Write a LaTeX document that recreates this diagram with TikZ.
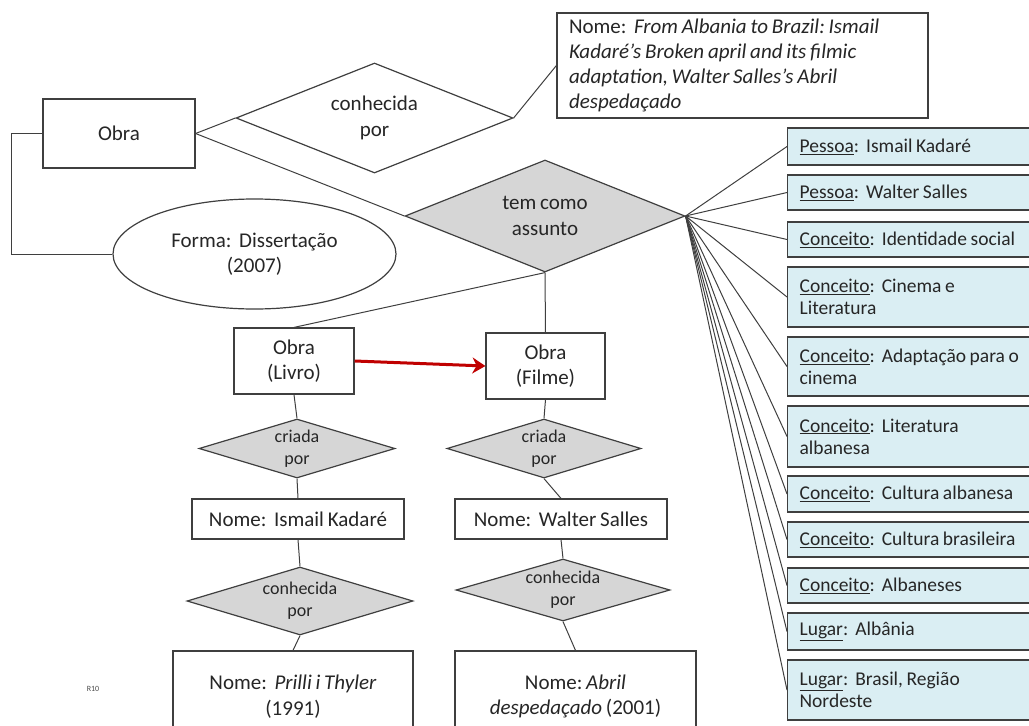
\documentclass[tikz,border=0pt]{standalone}
\usepackage{fontspec}
\setmainfont{Carlito}[WordSpace=0.8]
\frenchspacing
\usetikzlibrary{shapes.geometric,arrows.meta}
\definecolor{linegray}{HTML}{3F3F3F}
\definecolor{relfill}{HTML}{D6D6D6}
\definecolor{topicfill}{HTML}{DAEEF3}
\definecolor{arrowred}{HTML}{C00000}
\tikzset{
    every node/.style={font=\fontsize{21}{25.5}\selectfont, text=black!85},
    entbox/.style={rectangle, draw=linegray, line width=1.2pt, fill=white, inner sep=0pt, align=center},
    relwhite/.style={diamond, draw=linegray, line width=1.2pt, fill=white, aspect=2.5, inner sep=0pt, align=center},
    relgray/.style={relwhite, fill=relfill},
    relsmall/.style={relgray, aspect=3.5, font=\fontsize{18}{22}\selectfont},
    topicbox/.style={rectangle, draw=linegray, line width=1.2pt, fill=topicfill, anchor=west,
                     inner xsep=12pt, inner ysep=0pt, text width=244pt, minimum width=268pt,
                     align=flush left, font=\fontsize{19.5}{22}\selectfont},
    link/.style={draw=linegray, line width=1pt}
}

\begin{document}
\begin{tikzpicture}[x=1pt,y=-1pt]
                    \useasboundingbox (0,0) rectangle (1029,726);
                    \clip (0,0) rectangle (1029,726);

                    \node[entbox, minimum width=152pt, minimum height=69pt] (obra) at (119,133.5) {Obra};
                    \node[relwhite, minimum width=277pt, minimum height=110pt] (conhecida) at (374.5,118) {conhecida\\por};
                    \node[entbox, minimum width=371pt, minimum height=105pt, inner xsep=12pt, text width=347pt, align=flush left,
                          font=\fontsize{21}{25}\selectfont] (titulo) at (742.5,65.5)
                          {Nome:~ \textit{From Albania to Brazil: Ismail}\\
                           \textit{Kadaré's Broken april and its filmic}\\
                           \textit{adaptation, Walter Salles's Abril}\\
                           \textit{despedaçado}};
                    \node[ellipse, draw=linegray, line width=1.2pt, minimum width=283pt, minimum height=110pt,
                          inner sep=0pt, align=center] (forma) at (254.5,254) {Forma:~ Dissertação\\(2007)};
                    \node[relgray, minimum width=280pt, minimum height=112pt] (tema) at (545,216) {tem como\\assunto};

                    \node[entbox, minimum width=120pt, minimum height=66pt] (livro) at (294,361) {Obra\\(Livro)};
                    \node[entbox, minimum width=119pt, minimum height=66pt] (filme) at (545.5,366) {Obra\\(Filme)};
                    \node[relsmall, minimum width=196pt, minimum height=59pt] (criadaL) at (297,448.5) {criada\\por};
                    \node[relsmall, minimum width=194pt, minimum height=59pt] (criadaF) at (544,448.5) {criada\\por};
                    \node[entbox, minimum width=212pt, minimum height=40pt] (kadare) at (298,519) {Nome:~ Ismail Kadaré};
                    \node[entbox, minimum width=212pt, minimum height=40pt] (salles) at (561,519) {Nome:~ Walter Salles};
                    \node[relsmall, minimum width=226pt, minimum height=68pt] (conhecL) at (300,601) {conhecida\\por};
                    \node[relsmall, minimum width=214pt, minimum height=62pt] (conhecF) at (563,590) {conhecida\\por};
                    \node[entbox, minimum width=240pt, minimum height=91pt] (prilli) at (293,696.5) {Nome:~ \textit{Prilli i Thyler}\\(1991)};
                    \node[entbox, minimum width=241pt, minimum height=91pt] (abril) at (575.5,696.5) {Nome: \textit{Abril}\\\textit{despedaçado} (2001)};
                    \node[font=\fontsize{8}{9}\selectfont, text=black!70] (rotulo) at (93,689) {R10};

                    \foreach \i/\y/\h/\txt in {
                        1/146.5/37pt/{\underline{Pessoa}:~ Ismail Kadaré},
                        2/192.5/35pt/{\underline{Pessoa}:~ Walter Salles},
                        3/239.5/35pt/{\underline{Conceito}:~ Identidade social},
                        4/297/60pt/{\underline{Conceito}:~ Cinema e\\Literatura},
                        5/366.5/59pt/{\underline{Conceito}:~ Adaptação para o\\cinema},
                        6/436.5/61pt/{\underline{Conceito}:~ Literatura\\albanesa},
                        7/494/36pt/{\underline{Conceito}:~ Cultura albanesa},
                        8/539.5/35pt/{\underline{Conceito}:~ Cultura brasileira},
                        9/585.5/35pt/{\underline{Conceito}:~ Albaneses},
                        10/631.5/37pt/{\underline{Lugar}:~ Albânia},
                        11/690/60pt/{\underline{Lugar}:~ Brasil, Região\\Nordeste}}
                    {
                        \node[topicbox, minimum height=\h] (assunto\i) at (787,\y) {\txt};
                        \draw[link] (tema.east) -- (assunto\i.west);
                    }

                    \draw[link] (obra.west) -- ++(-31,0) |- (forma.west);
                    \draw[link] (obra.east) -- (conhecida.west);
                    \draw[link] (obra.east) -- (tema.west);
                    \draw[link] (conhecida.east) -- (titulo.west);
                    \draw[link] (tema.south) -- (livro.north);
                    \draw[link] (tema.south) -- (filme.north);
                    \draw[draw=arrowred, line width=3pt, -{Stealth[length=13pt,width=16pt]}] (livro.east) -- (filme.west);
                    \draw[link] (livro.south) -- (criadaL.north);
                    \draw[link] (criadaL.south) -- (kadare.north);
                    \draw[link] (kadare.south) -- (conhecL.north);
                    \draw[link] (conhecL.south) -- (prilli.north);
                    \draw[link] (filme.south) -- (criadaF.north);
                    \draw[link] (criadaF.south) -- (salles.north);
                    \draw[link] (salles.south) -- (conhecF.north);
                    \draw[link] (conhecF.south) -- (abril.north);
                \end{tikzpicture}
\end{document}
